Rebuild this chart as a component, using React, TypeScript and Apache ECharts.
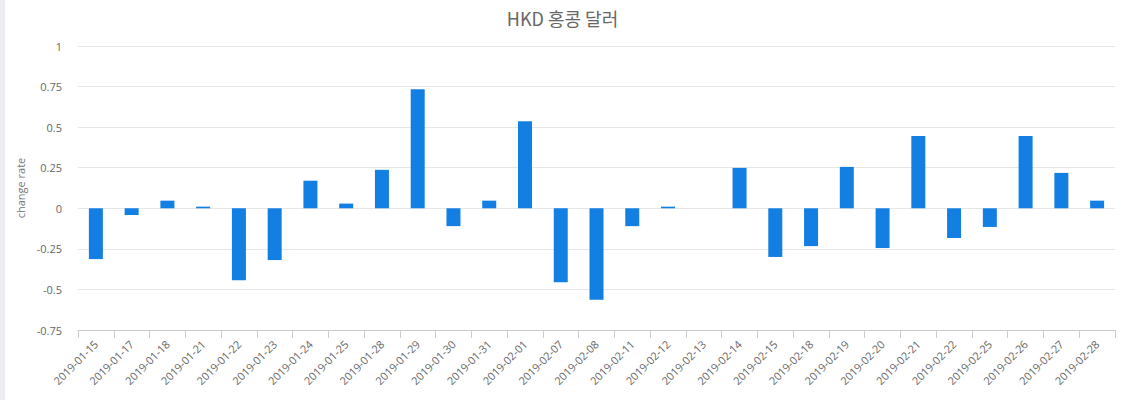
import React, { useEffect, useRef } from "react";
import * as echarts from "echarts";

const categories = [
  "2019-01-15", "2019-01-17", "2019-01-18", "2019-01-21", "2019-01-22", "2019-01-23",
  "2019-01-24", "2019-01-25", "2019-01-28", "2019-01-29", "2019-01-30", "2019-01-31",
  "2019-02-01", "2019-02-07", "2019-02-08", "2019-02-11", "2019-02-12", "2019-02-13",
  "2019-02-14", "2019-02-15", "2019-02-18", "2019-02-19", "2019-02-20", "2019-02-21",
  "2019-02-22", "2019-02-25", "2019-02-26", "2019-02-27", "2019-02-28",
];

const changeRate = [
  -0.313, -0.041, 0.047, 0.01, -0.444, -0.319,
  0.17, 0.029, 0.237, 0.733, -0.11, 0.047,
  0.537, -0.455, -0.563, -0.11, 0.01, 0,
  0.249, -0.3, -0.233, 0.255, -0.245, 0.445,
  -0.183, -0.115, 0.445, 0.218, 0.047,
];

const titleText = "HKD 홍콩 달러";
const yAxisName = "change rate";

export default function App() {
  const ref = useRef<HTMLDivElement>(null);

  useEffect(() => {
    if (!ref.current) return;
    const chart = echarts.init(ref.current, undefined, { renderer: "svg" });
    const font = "'Open Sans', 'Noto Sans', 'Noto Sans CJK KR', sans-serif";
    chart.setOption({
      animation: false,
      textStyle: { fontFamily: font },
      title: {
        text: titleText,
        left: "center",
        top: 4,
        textStyle: {
          fontFamily: "'Noto Sans CJK KR', 'Noto Sans', sans-serif",
          fontSize: 18,
          fontWeight: "normal",
          color: "#666666",
        },
      },
      grid: { left: 78, right: 10, top: 46, bottom: 70 },
      xAxis: {
        type: "category",
        data: categories,
        axisLine: { show: true, onZero: false, lineStyle: { color: "#cccccc" } },
        axisTick: { show: true, length: 8, alignWithLabel: false, lineStyle: { color: "#cccccc" } },
        axisLabel: {
          rotate: 45,
          interval: 0,
          color: "#666666",
          fontSize: 11,
          fontFamily: font,
          margin: 12,
        },
        splitLine: { show: false },
      },
      yAxis: {
        type: "value",
        min: -0.75,
        max: 1,
        interval: 0.25,
        name: yAxisName,
        nameLocation: "middle",
        nameGap: 52,
        nameTextStyle: { color: "#777777", fontSize: 11, fontFamily: font },
        axisLine: { show: false },
        axisTick: { show: false },
        axisLabel: { color: "#666666", fontSize: 11, fontFamily: font, margin: 16 },
        splitLine: { show: true, lineStyle: { color: "#e6e6e6" } },
      },
      series: [
        {
          type: "bar",
          data: changeRate,
          barWidth: 14,
          itemStyle: { color: "#137fe3" },
        },
      ],
    });
    return () => chart.dispose();
  }, []);

  return (
    <div style={{ position: "fixed", left: 0, top: 0, width: 1125, height: 400, background: "#ffffff" }}>
      <div style={{ position: "absolute", left: 0, top: 0, width: 5, height: 400, background: "#ececf3" }} />
      <div ref={ref} style={{ position: "absolute", left: 0, top: 0, width: 1125, height: 400 }} />
    </div>
  );
}
